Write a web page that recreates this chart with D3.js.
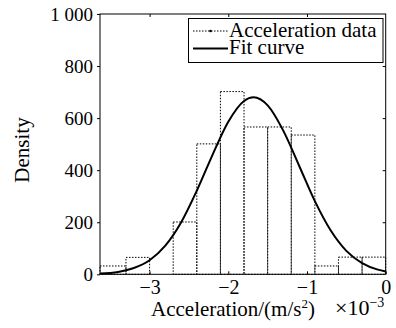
<!DOCTYPE html>
<html>
<head>
<meta charset="utf-8">
<script src="https://cdn.jsdelivr.net/npm/d3@7"></script>
<style>
  body { margin: 0; background: #fff; }
  svg { display: block; }
  svg text { font-family: "Liberation Serif", serif !important; fill: #000; }
</style>
</head>
<body>
<svg id="chart" width="396" height="328"></svg>
<script>
// histogram bins (x in 1e-3 m/s^2)
const binEdges = [-3.63, -3.3, -3.0, -2.7, -2.4, -2.1, -1.8, -1.5, -1.2, -0.9, -0.6, -0.3, 0];
const binDensity = [32, 65, 0, 201, 501, 702, 566, 566, 535, 32, 66, 66];

// fit curve
const curveX = [-3.63, -3.4, -3.2, -3.0, -2.8, -2.6, -2.4, -2.2, -2.0, -1.8, -1.68, -1.5, -1.3, -1.1, -0.9, -0.7, -0.5, -0.3, -0.1, 0];
const curveY = [3, 9, 24, 54, 110, 199, 321, 459, 586, 666, 680, 649, 551, 417, 281, 169, 90, 43, 18, 11];

const xTicks = [-3, -2, -1, 0];
const yTicks = [0, 200, 400, 600, 800, 1000];
const yTickLabels = ['0', '200', '400', '600', '800', '1 000'];

const margin = { left: 100, right: 10.3, top: 14, bottom: 53.7 };
const width = 396, height = 328;

const svg = d3.select('#chart');

const x = d3.scaleLinear()
  .domain([binEdges[0], 0])
  .range([margin.left, width - margin.right]);
const y = d3.scaleLinear()
  .domain([0, 1000])
  .range([height - margin.bottom, margin.top]);

// bars
const bins = binDensity.map((v, i) => ({ x0: binEdges[i], x1: binEdges[i + 1], v: v }));
svg.append('g')
  .attr('class', 'bars')
  .selectAll('rect')
  .data(bins.filter(d => d.v > 0))
  .join('rect')
  .attr('x', d => x(d.x0))
  .attr('y', d => y(d.v))
  .attr('width', d => x(d.x1) - x(d.x0))
  .attr('height', d => y(0) - y(d.v))
  .attr('fill', 'none')
  .attr('stroke', '#000')
  .attr('stroke-width', 1)
  .attr('stroke-dasharray', '1.5,1.5');

// fit curve
const line = d3.line()
  .x(d => x(d[0]))
  .y(d => y(d[1]))
  .curve(d3.curveMonotoneX);
svg.append('path')
  .datum(curveX.map((v, i) => [v, curveY[i]]))
  .attr('d', line)
  .attr('fill', 'none')
  .attr('stroke', '#000')
  .attr('stroke-width', 2);

// box + ticks
const x0 = x.range()[0], x1 = x.range()[1];
const y0 = y.range()[0], y1 = y.range()[1];
svg.append('rect')
  .attr('x', x0).attr('y', y1)
  .attr('width', x1 - x0).attr('height', y0 - y1)
  .attr('fill', 'none').attr('stroke', '#000').attr('stroke-width', 1);

const bottomAxis = d3.axisBottom(x)
  .tickValues(xTicks)
  .tickSizeInner(-3).tickSizeOuter(0)
  .tickFormat(d => d === 0 ? '0' : '\u2212' + Math.abs(d));
const gx = svg.append('g').attr('transform', `translate(0,${y0})`).call(bottomAxis);
gx.select('.domain').remove();
gx.selectAll('text')
  .attr('y', 20)
  .attr('dy', null)
  .attr('font-size', 20);

const topAxis = d3.axisTop(x).tickValues(xTicks.slice(0, 3)).tickSizeInner(-3).tickSizeOuter(0).tickFormat('');
const gt = svg.append('g').attr('transform', `translate(0,${y1})`).call(topAxis);
gt.select('.domain').remove();

const leftAxis = d3.axisLeft(y)
  .tickValues(yTicks)
  .tickSizeInner(3).tickSizeOuter(0)
  .tickPadding(4)
  .tickFormat((d, i) => yTickLabels[i]);
const gy = svg.append('g').attr('transform', `translate(${x0},0)`).call(leftAxis);
gy.select('.domain').remove();
gy.selectAll('text').attr('font-size', 19);

const rightAxis = d3.axisRight(y).tickValues(yTicks.slice(1, 5)).tickSizeInner(-3).tickSizeOuter(0).tickFormat('');
const gr = svg.append('g').attr('transform', `translate(${x1},0)`).call(rightAxis);
gr.select('.domain').remove();

svg.selectAll('g').attr('font-family', null);
svg.selectAll('.tick line').attr('stroke', '#000');

// axis labels
const xl = svg.append('text')
  .attr('x', 151)
  .attr('y', 316)
  .attr('font-size', 21);
xl.append('tspan').text('Acceleration/(m/s');
xl.append('tspan').attr('font-size', 13).attr('dy', -8).text('2');
xl.append('tspan').attr('dy', 8).text(')');

const xs = svg.append('text')
  .attr('x', 335)
  .attr('y', 315)
  .attr('font-size', 22);
xs.append('tspan').text('\u00d710');
xs.append('tspan').attr('font-size', 14).attr('dy', -8).text('\u22123');

svg.append('text')
  .attr('transform', 'translate(29,150) rotate(-90)')
  .attr('text-anchor', 'middle')
  .attr('font-size', 21)
  .text('Density');

// legend
const lg = svg.append('g').attr('class', 'legend');
lg.append('rect')
  .attr('x', 188.5).attr('y', 18.5)
  .attr('width', 194.5).attr('height', 44)
  .attr('fill', '#fff').attr('stroke', '#000').attr('stroke-width', 1);
lg.append('line')
  .attr('x1', 193).attr('x2', 228).attr('y1', 31).attr('y2', 31)
  .attr('stroke', '#000').attr('stroke-width', 1).attr('stroke-dasharray', '1.5,1.5');
lg.append('circle').attr('cx', 210.5).attr('cy', 31).attr('r', 1.3).attr('fill', '#000');
lg.append('line')
  .attr('x1', 193).attr('x2', 228).attr('y1', 48.5).attr('y2', 48.5)
  .attr('stroke', '#000').attr('stroke-width', 2);
lg.append('text').attr('x', 229).attr('y', 36.5).attr('font-size', 21).text('Acceleration data');
lg.append('text').attr('x', 229).attr('y', 54).attr('font-size', 21).text('Fit curve');
</script>
</body>
</html>
